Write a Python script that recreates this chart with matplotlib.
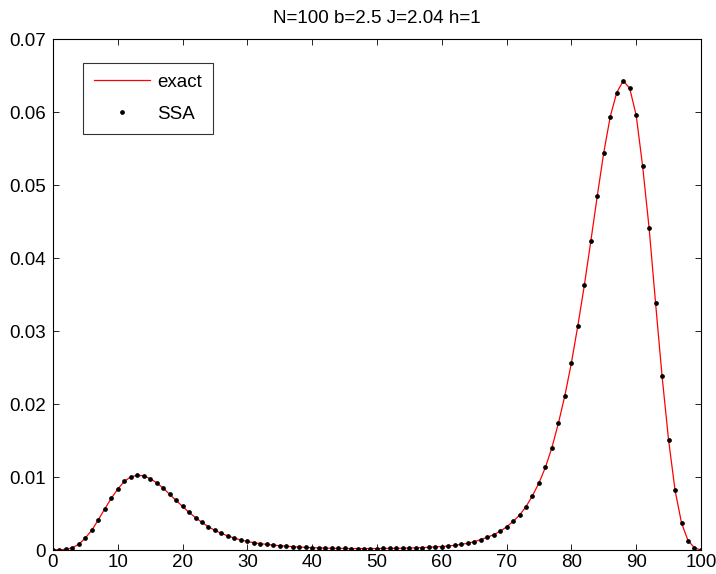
import matplotlib
matplotlib.use("Agg")
import matplotlib.pyplot as plt
import numpy as np

plt.rcParams['font.family'] = ['Liberation Sans', 'DejaVu Sans']

x_vals = list(range(0, 101))
p_vals = [
    0.00001, 0.00003, 0.00009, 0.00030, 0.00080, 0.00165, 0.00272, 0.00415, 0.00565, 0.00708,
    0.00836, 0.00940, 0.01003, 0.01023, 0.01018, 0.00977, 0.00922, 0.00848, 0.00764, 0.00679,
    0.00597, 0.00515, 0.00444, 0.00378, 0.00318, 0.00268, 0.00228, 0.00192, 0.00163, 0.00137,
    0.00117, 0.00100, 0.00087, 0.00077, 0.00067, 0.00059, 0.00052, 0.00046, 0.00041, 0.00036,
    0.00032, 0.00029, 0.00026, 0.00024, 0.00022, 0.00021, 0.00020, 0.00020, 0.00020, 0.00020,
    0.00020, 0.00021, 0.00022, 0.00023, 0.00025, 0.00027, 0.00030, 0.00033, 0.00037, 0.00042,
    0.00048, 0.00055, 0.00064, 0.00078, 0.00092, 0.00114, 0.00142, 0.00174, 0.00210, 0.00256,
    0.00317, 0.00391, 0.00478, 0.00594, 0.00745, 0.00919, 0.01134, 0.01405, 0.01738, 0.02117,
    0.02563, 0.03075, 0.03627, 0.04232, 0.04854, 0.05448, 0.05940, 0.06270, 0.06430, 0.06330,
    0.05960, 0.05260, 0.04410, 0.03380, 0.02380, 0.01510, 0.00820, 0.00370, 0.00130, 0.00030,
    0.00000,
]
ssa_vals = p_vals

x_ticks = [0, 10, 20, 30, 40, 50, 60, 70, 80, 90, 100]
y_ticks = [0, 0.01, 0.02, 0.03, 0.04, 0.05, 0.06, 0.07]
y_tick_labels = ['0', '0.01', '0.02', '0.03', '0.04', '0.05', '0.06', '0.07']
title = 'N=100 b=2.5 J=2.04 h=1'

fs = 13.5
fig = plt.figure(figsize=(7.16, 5.74), dpi=100)
ax = fig.add_axes([0.074, 0.0418, 0.905, 0.8897])
ax.plot(x_vals, p_vals, color='red', linewidth=0.9, label='exact')
ax.plot(x_vals, ssa_vals, linestyle='none', marker='o', markersize=2.4,
        color='black', label='SSA')

ax.set_xlim(0, 100)
ax.set_ylim(0, 0.07)
ax.set_xticks(x_ticks)
ax.set_yticks(y_ticks)
ax.set_yticklabels(y_tick_labels)
ax.tick_params(direction='in', length=4.5, width=0.6, top=True, right=True,
               labelsize=fs)
ax.tick_params(axis='x', pad=3)
ax.tick_params(axis='y', pad=5)
for s in ax.spines.values():
    s.set_linewidth(0.8)
ax.set_title(title, fontsize=fs, pad=12)

leg = ax.legend(loc='upper left', bbox_to_anchor=(0.046, 0.954), fontsize=fs,
                frameon=True, fancybox=False, edgecolor='black',
                handlelength=3.0, borderpad=0.58, labelspacing=0.8,
                handletextpad=0.4, borderaxespad=0)
leg.get_frame().set_linewidth(0.8)

fig.savefig('out.png', dpi=100)
